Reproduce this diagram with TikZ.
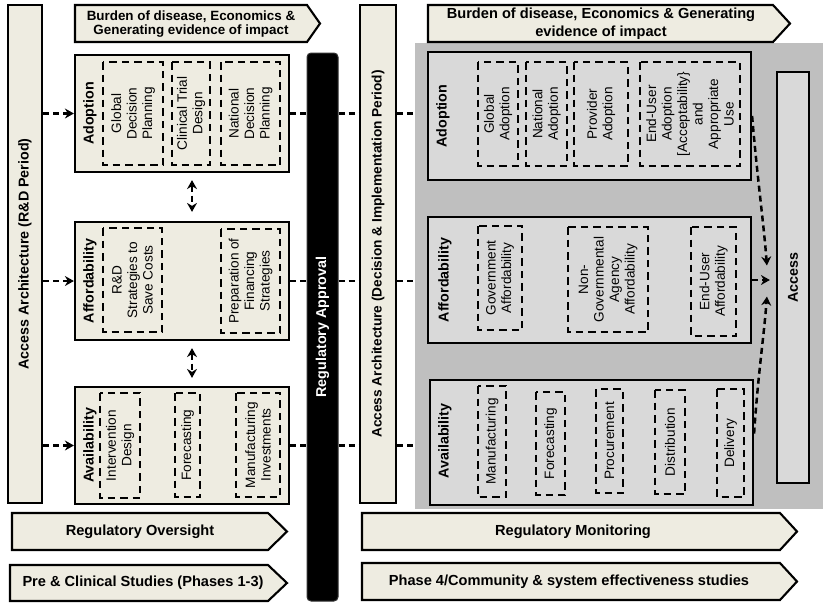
\documentclass[tikz,border=0pt]{standalone}
\usepackage{fontspec}
\setmainfont{Liberation Sans}
\usetikzlibrary{fit,arrows.meta}
\definecolor{beige}{HTML}{EEECE1}
\definecolor{greyR}{HTML}{BFBFBF}
\definecolor{greyB}{HTML}{D9D9D9}
\newcommand\innerbx[6]{\node[innerbox, minimum width={#5-#3}, minimum height={#4-#2}] (#1) at ({(#2+#4)/2},{(#3+#5)/2}) {#6};}
\tikzset{
  mainbox/.style={draw, line width=2.2pt, inner sep=0pt},
  innerbox/.style={draw, line width=2.1pt, dash pattern=on 7.5pt off 5pt, rotate=90, inner sep=1pt, align=center, font=\fontsize{13.6}{15.5}\selectfont},
  lbl/.style={rotate=90, inner sep=0pt, font=\fontsize{14.3}{16}\selectfont\bfseries},
  banner/.style={draw, line width=2.1pt, fill=beige, line join=miter},
  btext/.style={inner sep=0pt, align=center, font=\fontsize{14.6}{18}\selectfont\bfseries},
  dconn/.style={line width=2.5pt, dash pattern=on 6pt off 4pt},
  ahead/.style={-{Stealth[length=9pt,width=10pt,inset=3pt]}},
  bihead/.style={{Stealth[length=9pt,width=10pt,inset=3pt]}-{Stealth[length=9pt,width=10pt,inset=3pt]}}
}
\begin{document}
\begin{tikzpicture}[x=1pt,y=-1pt]
\useasboundingbox (0,0) rectangle (835,606);
% grey region
\node[fill=greyR, inner sep=0pt, fit={(415,43) (823,509)}] (grey) {};
% left vertical bar
\node[mainbox, fill=beige, fit={(8,5) (42,503)}] (lbar) {};
\node[lbl] (lbartxt) at (lbar.center) {Access Architecture (R\&D Period)};
% top-left banner
\draw[banner] (75,5) -- (307,5) -- (320,23.5) -- (307,42) -- (75,42) -- cycle;
\node[btext, font=\fontsize{13.4}{14.5}\selectfont\bfseries] (bn1) at (191,24) {Burden of disease, Economics \&\\Generating evidence of impact};
% left boxes
\node[mainbox, fill=beige, fit={(75,55) (289,172)}] (ladopt) {};
\node[lbl] (ladoptl) at (90,113.5) {Adoption};
\innerbx{la1}{103}{62}{163}{165}{Global\\Decision\\Planning}
\innerbx{la2}{172}{62}{210}{165}{Clinical Trial\\Design}
\innerbx{la3}{221}{62}{280}{165}{National\\Decision\\Planning}
\node[mainbox, fill=beige, fit={(75,222) (289,340)}] (laff) {};
\node[lbl] (laffl) at (90,281) {Affordability};
\innerbx{lf1}{103}{228}{162}{332}{R\&D\\Strategies to\\Save Costs}
\innerbx{lf2}{221}{229}{280}{333}{Preparation of\\Financing\\Strategies}
\node[mainbox, fill=beige, fit={(75,387) (289,504)}] (lavail) {};
\node[lbl] (lavaill) at (90,445.5) {Availability};
\innerbx{lv1}{100}{393}{140}{498}{Intervention\\Design}
\innerbx{lv2}{175}{393}{200}{497}{Forecasting}
\innerbx{lv3}{236}{393}{280}{497}{Manufacturing\\Investments}
% regulatory approval bar
\node[fill=black, draw=black!80, line width=1pt, rounded corners=4pt, inner sep=0pt, fit={(307,53) (338,601)}] (rapp) {};
\node[lbl, text=white] (rapptxt) at (rapp.center) {Regulatory Approval};
% second vertical bar
\node[mainbox, fill=beige, fit={(360,5) (396,503)}] (rbar) {};
\node[lbl, font=\fontsize{13.7}{16}\selectfont\bfseries] (rbartxt) at (rbar.center) {Access Architecture (Decision \& Implementation Period)};
% top-right banner
\draw[banner] (428,5) -- (773,5) -- (790,23.5) -- (773,42) -- (428,42) -- cycle;
\node[btext] (bn2) at (601,24) {Burden of disease, Economics \& Generating\\evidence of impact};
% right boxes
\node[mainbox, fill=greyB, fit={(428,52) (751,180)}] (radopt) {};
\node[lbl] (radoptl) at (443,116) {Adoption};
\innerbx{ra1}{478}{62}{518}{166}{Global\\Adoption}
\innerbx{ra2}{526}{62}{567}{166}{National\\Adoption}
\innerbx{ra3}{574}{62}{628}{166}{Provider\\Adoption}
\innerbx{ra4}{640}{62}{740}{166}{End-User\\Adoption\\{[}Acceptability\}\\and\\Appropriate\\Use}
\node[mainbox, fill=greyB, fit={(428,217) (751,343)}] (raff) {};
\node[lbl] (raffl) at (445,280) {Affordability};
\innerbx{rf1}{478}{226}{522}{330}{Government\\Affordability}
\innerbx{rf2}{568}{227}{648}{332}{Non-\\Governmental\\Agency\\Affordability}
\innerbx{rf3}{691}{227}{736}{336}{End-User\\Affordability}
\node[mainbox, fill=greyB, fit={(430,380) (753,505)}] (ravail) {};
\node[lbl] (ravaill) at (445,441) {Availability};
\innerbx{rv1}{478}{386}{506}{497}{Manufacturing}
\innerbx{rv2}{536}{392}{565}{495}{Forecasting}
\innerbx{rv3}{596}{389}{623}{493}{Procurement}
\innerbx{rv4}{655}{390}{685}{494}{Distribution}
\innerbx{rv5}{717}{389}{744}{497}{Delivery}
% access bar
\node[mainbox, fill=greyB, fit={(777,72) (809,483)}] (access) {};
\node[lbl] (accesstxt) at (access.center) {Access};
\coordinate (accin) at ([xshift=-6pt]access.west);
% bottom banners
\draw[banner] (12,513) -- (268,513) -- (287,531.5) -- (268,550) -- (12,550) -- cycle;
\node[btext] (bn3) at (140,531.5) {Regulatory Oversight};
\draw[banner] (10,565) -- (268,565) -- (287,583) -- (268,601) -- (10,601) -- cycle;
\node[btext] (bn4) at (143,583) {Pre \& Clinical Studies (Phases 1-3)};
\draw[banner] (362,513) -- (780,513) -- (797,531.5) -- (780,550) -- (362,550) -- cycle;
\node[btext] (bn5) at (573,531.5) {Regulatory Monitoring};
\draw[banner] (362,563) -- (780,563) -- (797,581.5) -- (780,600) -- (362,600) -- cycle;
\node[btext] (bn6) at (569,581.5) {Phase 4/Community \& system effectiveness studies};
% connectors left bar -> boxes
\foreach \b in {ladopt,laff,lavail}{
  \draw[dconn, ahead] (lbar.east |- \b.west) -- (\b.west);
  \draw[dconn] (\b.east) -- (rapp.west |- \b.east);
  \draw[dconn] (rapp.east |- \b.east) -- (rbar.west |- \b.east);
  \draw[dconn] (rbar.east |- \b.east) -- (grey.west |- \b.east);
}
% double arrows
\draw[dconn, bihead] ([xshift=10pt,yshift=-7pt]ladopt.south) -- ([xshift=10pt,yshift=9pt]laff.north);
\draw[dconn, bihead] ([xshift=10pt,yshift=-7pt]laff.south) -- ([xshift=10pt,yshift=8pt]lavail.north);
% arrows into access
\draw[dconn, ahead] (radopt.east) .. controls +(5,60) and +(-3,-40) .. ([xshift=-9pt,yshift=12pt]access.west);
\draw[dconn, ahead] (raff.east) -- (accin |- raff.east);
\draw[dconn, ahead] ([yshift=9pt]ravail.east) .. controls +(4,-60) and +(-3,40) .. ([xshift=-9pt,yshift=-19pt]access.west);
\end{tikzpicture}
\end{document}
